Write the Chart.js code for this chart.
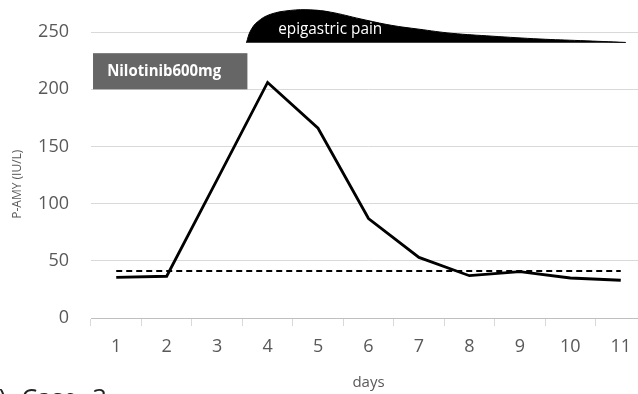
<!DOCTYPE html>
<html>
<head>
<meta charset="utf-8">
<script src="https://cdn.jsdelivr.net/npm/chart.js@4"></script>
<style>
html,body{margin:0;padding:0;background:#fff;overflow:hidden;width:638px;height:394px;}
#wrap{position:absolute;left:0;top:0;width:646px;height:394px;}
#case{position:absolute;left:-24px;top:380px;font-family:"Open Sans",sans-serif;font-size:25px;word-spacing:9px;color:#222;white-space:nowrap;}
</style>
</head>
<body>
<div id="wrap"><canvas id="c" width="646" height="394"></canvas></div>
<div id="case">(b) Case 3</div>
<script>
const days = ["1","2","3","4","5","6","7","8","9","10","11"];
const amylase = [35.5, 36.5, 121, 206, 166, 87, 53, 37, 40.5, 35, 33];
const upperLimit = [41, 41, 41, 41, 41, 41, 41, 41, 41, 41, 41];
const yTicks = [0, 50, 100, 150, 200, 250];
// epigastric pain band (x in days, y in IU/L units of the plot)
const painX = [3.58, 3.66, 3.8, 4.05, 4.45, 4.85, 5.25, 5.85, 6.45, 7.0, 7.65, 8.45, 9.4, 10.2, 11.1];
const painY = [240.7, 251, 259, 265.5, 269, 269.5, 267.5, 261.5, 256, 252.6, 249, 246.5, 244, 242.6, 241];
const painBase = 240.7;
const painLabel = "epigastric pain";
const doseLabel = "Nilotinib600mg";
const yTitle = "P-AMY (IU/L)";
const doseStart = 0.54, doseEnd = 3.6, doseLow = 200, doseHigh = 231.6;

const annot = {
  id: 'annot',
  afterDatasetsDraw(chart) {
    const ctx = chart.ctx, x2 = chart.scales.x2, y = chart.scales.y;
    ctx.save();
    const l = x2.getPixelForValue(doseStart), r = x2.getPixelForValue(doseEnd);
    const t = y.getPixelForValue(doseHigh), b = y.getPixelForValue(doseLow);
    ctx.fillStyle = '#666666';
    ctx.fillRect(l, t, r - l, b - t);
    ctx.fillStyle = '#ffffff';
    ctx.font = 'bold 16px "Open Sans", sans-serif';
    ctx.textBaseline = 'alphabetic';
    ctx.fillText(doseLabel, x2.getPixelForValue(0.82), y.getPixelForValue(211.5), 114);
    ctx.font = '16px "Open Sans", sans-serif';
    ctx.fillText(painLabel, x2.getPixelForValue(4.21), y.getPixelForValue(248.3), 104);
    // y-axis title
    ctx.fillStyle = '#595959';
    ctx.font = '12px "Open Sans", sans-serif';
    ctx.translate(18, y.getPixelForValue(117));
    ctx.rotate(-Math.PI / 2);
    ctx.textAlign = 'center';
    ctx.textBaseline = 'middle';
    ctx.fillText(yTitle, 0, 0);
    ctx.restore();
  }
};

new Chart(document.getElementById('c'), {
  type: 'line',
  data: {
    labels: days,
    datasets: [
      { data: amylase, borderColor: '#000', borderWidth: 2.8, pointRadius: 0, tension: 0, fill: false },
      { data: upperLimit, borderColor: '#000', borderWidth: 2, borderDash: [6, 4], pointRadius: 0, fill: false },
      { data: painX.map((v, i) => ({ x: v, y: painY[i] })), xAxisID: 'x2', borderColor: '#000', borderWidth: 1,
        backgroundColor: '#000', fill: { value: painBase }, pointRadius: 0, tension: 0.4, clip: false }
    ]
  },
  options: {
    responsive: false,
    animation: false,
    plugins: { legend: { display: false }, tooltip: { enabled: false } },
    layout: { padding: { top: 7, left: 0, right: 0, bottom: 0 } },
    scales: {
      x: {
        type: 'category',
        offset: true,
        grid: { offset: true, drawOnChartArea: false, drawTicks: true, tickLength: 8, color: '#d9d9d9' },
        border: { display: true, color: '#bfbfbf', width: 1 },
        ticks: { color: '#595959', font: { family: 'Open Sans', size: 18 }, padding: 10, maxRotation: 0 },
        title: { display: true, text: 'days', color: '#595959', font: { family: 'Open Sans', size: 15 }, padding: { top: 2, bottom: 2 } },
        afterFit(s) { s.height = 76; s.paddingLeft = 0; s.paddingRight = 0; }
      },
      x2: { type: 'linear', min: 0.5, max: 11.5, display: false },
      y: {
        min: 0, max: 272,
        afterBuildTicks(s) { s.ticks = yTicks.map(v => ({ value: v })); },
        grid: { drawTicks: false, color: '#d9d9d9', lineWidth: 1 },
        border: { display: false },
        ticks: { color: '#595959', font: { family: 'Open Sans', size: 18 }, padding: 22 },
        afterFit(s) { s.width = 91; s.paddingTop = 0; s.paddingBottom = 0; }
      }
    }
  },
  plugins: [annot]
});
</script>
</body>
</html>
